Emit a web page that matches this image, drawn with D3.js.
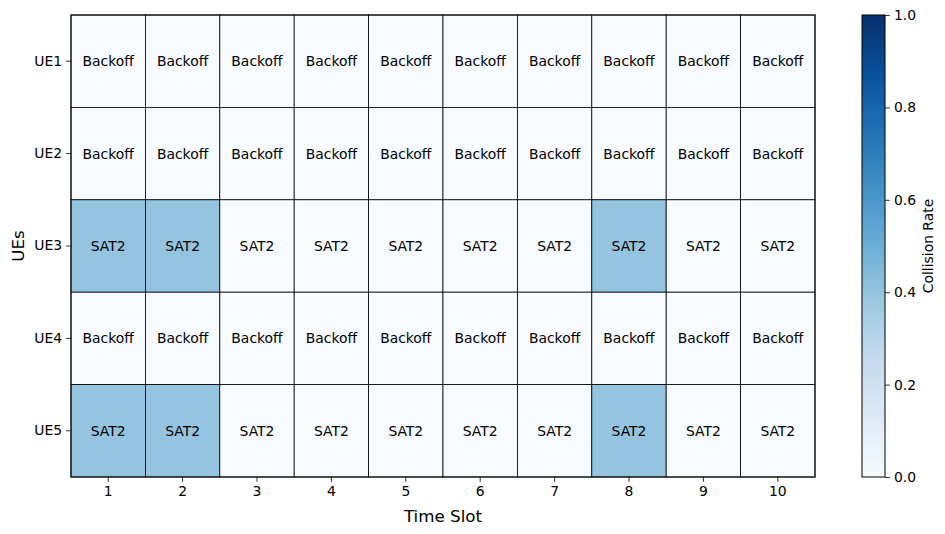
<!DOCTYPE html>
<html>
<head>
<meta charset="utf-8">
<script src="https://cdn.jsdelivr.net/npm/d3@7"></script>
<style>
  body { margin: 0; background: #fff; }
  svg text { font-family: "DejaVu Sans", sans-serif; fill: #000; }
</style>
</head>
<body>
<svg id="chart" width="945" height="534"></svg>
<script>
// data
const timeSlots = [1, 2, 3, 4, 5, 6, 7, 8, 9, 10];
const ues = ["UE1", "UE2", "UE3", "UE4", "UE5"];
const actions = [
  ["Backoff", "Backoff", "Backoff", "Backoff", "Backoff", "Backoff", "Backoff", "Backoff", "Backoff", "Backoff"],
  ["Backoff", "Backoff", "Backoff", "Backoff", "Backoff", "Backoff", "Backoff", "Backoff", "Backoff", "Backoff"],
  ["SAT2", "SAT2", "SAT2", "SAT2", "SAT2", "SAT2", "SAT2", "SAT2", "SAT2", "SAT2"],
  ["Backoff", "Backoff", "Backoff", "Backoff", "Backoff", "Backoff", "Backoff", "Backoff", "Backoff", "Backoff"],
  ["SAT2", "SAT2", "SAT2", "SAT2", "SAT2", "SAT2", "SAT2", "SAT2", "SAT2", "SAT2"]
];
const collisionRate = [
  [0, 0, 0, 0, 0, 0, 0, 0, 0, 0],
  [0, 0, 0, 0, 0, 0, 0, 0, 0, 0],
  [0.4, 0.4, 0, 0, 0, 0, 0, 0.4, 0, 0],
  [0, 0, 0, 0, 0, 0, 0, 0, 0, 0],
  [0.4, 0.4, 0, 0, 0, 0, 0, 0.4, 0, 0]
];
const cbarTicks = [0, 0.2, 0.4, 0.6, 0.8, 1.0];

// matplotlib "Blues"
const bluesStops = ["#f7fbff", "#deebf7", "#c6dbef", "#9ecae1", "#6baed6", "#4292c6", "#2171b5", "#08519c", "#08306b"];
const color = d3.scaleLinear()
  .domain(d3.range(bluesStops.length).map(i => i / (bluesStops.length - 1)))
  .range(bluesStops)
  .interpolate(d3.interpolateRgb);

const svg = d3.select("#chart");
const [pl, pr, pt, pb] = [71, 815, 15, 477];
const fs = "13.9px";

const x = d3.scaleBand().domain(timeSlots).range([pl, pr]);
const y = d3.scaleBand().domain(ues).range([pt, pb]);

const cells = [];
ues.forEach((ue, i) => timeSlots.forEach((t, j) => {
  cells.push({ue: ue, t: t, label: actions[i][j], v: collisionRate[i][j]});
}));

const g = svg.append("g");
g.selectAll("rect.cell").data(cells).enter().append("rect")
  .attr("class", "cell")
  .attr("x", d => x(d.t)).attr("y", d => y(d.ue))
  .attr("width", x.bandwidth()).attr("height", y.bandwidth())
  .attr("fill", d => color(d.v))
  .attr("stroke", "#000").attr("stroke-width", 0.8);

g.selectAll("text.lbl").data(cells).enter().append("text")
  .attr("class", "lbl")
  .attr("x", d => x(d.t) + x.bandwidth() / 2)
  .attr("y", d => y(d.ue) + y.bandwidth() / 2)
  .attr("text-anchor", "middle").attr("dominant-baseline", "central")
  .style("font-size", fs)
  .text(d => d.label);

// frame
svg.append("rect").attr("x", pl).attr("y", pt)
  .attr("width", pr - pl).attr("height", pb - pt)
  .attr("fill", "none").attr("stroke", "#000").attr("stroke-width", 1);

// axes
const xAxis = svg.append("g").attr("transform", `translate(0,${pb})`)
  .call(d3.axisBottom(x).tickSize(4.9).tickPadding(4));
const yAxis = svg.append("g").attr("transform", `translate(${pl},0)`)
  .call(d3.axisLeft(y).tickSize(4.9).tickPadding(4));
[xAxis, yAxis].forEach(a => {
  a.select(".domain").remove();
  a.selectAll("text").style("font-size", fs).style("font-family", "DejaVu Sans");
  a.selectAll("line").attr("stroke", "#000").attr("stroke-width", 0.8);
});

svg.append("text").attr("x", (pl + pr) / 2).attr("y", 522)
  .attr("text-anchor", "middle").style("font-size", "16.7px").text("Time Slot");
svg.append("text").attr("transform", `translate(24,${(pt + pb) / 2}) rotate(-90)`)
  .attr("text-anchor", "middle").style("font-size", "16.7px").text("UEs");

// colorbar
const [cbL, cbR] = [862, 885];
const cy = d3.scaleLinear().domain([0, 1]).range([pb, pt]);
const defs = svg.append("defs");
const grad = defs.append("linearGradient").attr("id", "cbGrad")
  .attr("x1", 0).attr("y1", 1).attr("x2", 0).attr("y2", 0);
bluesStops.forEach((c, i) => {
  grad.append("stop").attr("offset", i / (bluesStops.length - 1)).attr("stop-color", c);
});
svg.append("rect").attr("x", cbL).attr("y", pt)
  .attr("width", cbR - cbL).attr("height", pb - pt)
  .attr("fill", "url(#cbGrad)").attr("stroke", "#000").attr("stroke-width", 1);
const cAxis = svg.append("g").attr("transform", `translate(${cbR},0)`)
  .call(d3.axisRight(cy).tickValues(cbarTicks).tickFormat(d3.format(".1f")).tickSize(4.9).tickPadding(4));
cAxis.select(".domain").remove();
cAxis.selectAll("text").style("font-size", fs).style("font-family", "DejaVu Sans");
cAxis.selectAll("line").attr("stroke", "#000").attr("stroke-width", 0.8);

svg.append("text").attr("transform", `translate(933,${(pt + pb) / 2}) rotate(-90)`)
  .attr("text-anchor", "middle").style("font-size", fs).text("Collision Rate");
</script>
</body>
</html>
